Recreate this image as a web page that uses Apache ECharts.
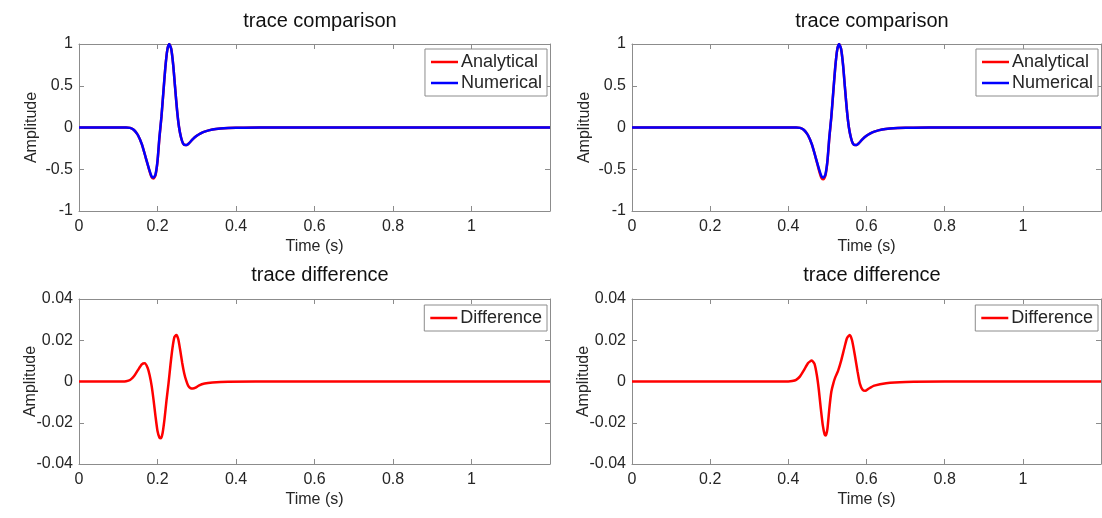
<!DOCTYPE html>
<html>
<head>
<meta charset="utf-8">
<script src="https://cdn.jsdelivr.net/npm/echarts@6/dist/echarts.min.js"></script>
<style>html,body{margin:0;padding:0;background:#fff}#c{width:1102px;height:518px}</style>
</head>
<body>
<div id="c"></div>
<script>
// ---- data ----
const xTicks = [0, 0.2, 0.4, 0.6, 0.8, 1];
const topYTicks = [-1, -0.5, 0, 0.5, 1];
const botYTicks = [-0.04, -0.02, 0, 0.02, 0.04];

// trace comparison, left panel
const timeCmpL = [0, 0.10, 0.12, 0.13, 0.14, 0.15, 0.16, 0.17, 0.18, 0.185, 0.19, 0.195, 0.20, 0.205, 0.21, 0.215, 0.22, 0.225, 0.23, 0.235, 0.24, 0.245, 0.25, 0.255, 0.26, 0.265, 0.27, 0.275, 0.28, 0.29, 0.30, 0.31, 0.32, 0.34, 0.36, 0.38, 0.42, 0.50, 1.2];
const analyticalL = [0, 0, 0, -0.005, -0.03, -0.09, -0.20, -0.36, -0.53, -0.595, -0.61, -0.57, -0.41, -0.12, 0.12, 0.42, 0.72, 0.93, 1.0, 0.94, 0.75, 0.47, 0.20, 0.0, -0.12, -0.19, -0.21, -0.21, -0.19, -0.14, -0.10, -0.07, -0.05, -0.025, -0.012, -0.006, -0.002, 0, 0];
const numericalL  = [0, 0, 0, -0.005, -0.03, -0.09, -0.20, -0.36, -0.52, -0.585, -0.60, -0.56, -0.40, -0.11, 0.13, 0.43, 0.72, 0.93, 1.0, 0.94, 0.75, 0.47, 0.20, 0.0, -0.12, -0.19, -0.21, -0.21, -0.19, -0.14, -0.10, -0.07, -0.05, -0.025, -0.012, -0.006, -0.002, 0, 0];

// trace comparison, right panel
const timeCmpR = [0, 0.40, 0.42, 0.43, 0.44, 0.45, 0.46, 0.47, 0.48, 0.485, 0.49, 0.495, 0.50, 0.505, 0.51, 0.515, 0.52, 0.525, 0.53, 0.535, 0.54, 0.545, 0.55, 0.555, 0.56, 0.565, 0.57, 0.575, 0.58, 0.59, 0.60, 0.61, 0.62, 0.64, 0.66, 0.68, 0.72, 0.80, 1.2];
const analyticalR = [0, 0, 0, -0.005, -0.03, -0.09, -0.20, -0.36, -0.54, -0.605, -0.62, -0.575, -0.41, -0.12, 0.12, 0.42, 0.72, 0.93, 1.0, 0.94, 0.75, 0.47, 0.20, 0.0, -0.12, -0.19, -0.21, -0.21, -0.19, -0.14, -0.10, -0.07, -0.05, -0.025, -0.012, -0.006, -0.002, 0, 0];
const numericalR  = [0, 0, 0, -0.005, -0.03, -0.09, -0.20, -0.36, -0.52, -0.585, -0.60, -0.56, -0.40, -0.11, 0.13, 0.43, 0.72, 0.93, 1.0, 0.94, 0.75, 0.47, 0.20, 0.0, -0.12, -0.19, -0.21, -0.21, -0.19, -0.14, -0.10, -0.07, -0.05, -0.025, -0.012, -0.006, -0.002, 0, 0];

// trace difference, left panel
const timeDiffL = [0, 0.11, 0.12, 0.13, 0.14, 0.15, 0.16, 0.1675, 0.175, 0.18, 0.185, 0.19, 0.195, 0.20, 0.205, 0.209, 0.213, 0.218, 0.223, 0.228, 0.233, 0.238, 0.243, 0.248, 0.253, 0.258, 0.263, 0.268, 0.273, 0.278, 0.284, 0.29, 0.297, 0.305, 0.32, 0.34, 0.38, 0.45, 1.2];
const differenceL = [0, 0, 0.0001, 0.0007, 0.0025, 0.0055, 0.0083, 0.0088, 0.0065, 0.003, -0.002, -0.009, -0.017, -0.024, -0.0272, -0.0275, -0.025, -0.018, -0.009, -0.001, 0.008, 0.016, 0.0215, 0.0226, 0.0205, 0.015, 0.009, 0.004, 0.0005, -0.002, -0.0032, -0.0034, -0.003, -0.002, -0.001, -0.0005, -0.0001, 0, 0];

// trace difference, right panel
const timeDiffR = [0, 0.40, 0.41, 0.42, 0.43, 0.44, 0.45, 0.46, 0.467, 0.473, 0.478, 0.483, 0.488, 0.493, 0.496, 0.50, 0.505, 0.51, 0.515, 0.52, 0.527, 0.535, 0.543, 0.55, 0.557, 0.563, 0.57, 0.577, 0.583, 0.59, 0.597, 0.605, 0.62, 0.65, 0.70, 0.80, 1.2];
const differenceR = [0, 0, 0.0002, 0.0008, 0.0025, 0.0055, 0.0088, 0.0102, 0.0085, 0.003, -0.004, -0.013, -0.021, -0.0258, -0.0262, -0.023, -0.013, -0.005, -0.001, 0.002, 0.005, 0.010, 0.016, 0.021, 0.0226, 0.020, 0.013, 0.005, -0.001, -0.004, -0.0045, -0.0035, -0.002, -0.0008, -0.0002, 0, 0];

// ---- chart ----
const zip = (t, v) => t.map((x, i) => [x, v[i]]);
const FONT = 'Liberation Sans, Arial, Helvetica, sans-serif';
const AX = '#8c8c8c';
const LBL = '#262626';

const grids = [
  {left: 79, top: 44, width: 471, height: 167},
  {left: 632, top: 44, width: 469, height: 167},
  {left: 79, top: 299, width: 471, height: 165},
  {left: 632, top: 299, width: 469, height: 165}
];

const xAxes = [], yAxes = [];
grids.forEach((g, i) => {
  xAxes.push({
    type: 'value', gridIndex: i, min: 0, max: 1.2, interval: 0.2, position: 'bottom',
    name: 'Time (s)', nameLocation: 'middle', nameGap: 28,
    nameTextStyle: {fontSize: 16, color: LBL, fontFamily: FONT},
    axisLine: {show: true, onZero: false, lineStyle: {color: AX, width: 1}},
    axisTick: {show: true, inside: true, length: 5, lineStyle: {color: AX}},
    axisLabel: {fontSize: 16, color: LBL, fontFamily: FONT, margin: 8, showMaxLabel: false,
      formatter: v => xTicks.indexOf(Math.round(v * 10) / 10) >= 0 ? String(Math.round(v * 10) / 10) : ''},
    splitLine: {show: false}
  });
  xAxes.push({
    type: 'value', gridIndex: i, min: 0, max: 1.2, interval: 0.2, position: 'top',
    axisLine: {show: true, onZero: false, lineStyle: {color: AX, width: 1}},
    axisTick: {show: true, inside: true, length: 5, lineStyle: {color: AX}},
    axisLabel: {show: false}, splitLine: {show: false}
  });
  const top = i < 2;
  const ticks = top ? topYTicks : botYTicks;
  yAxes.push({
    type: 'value', gridIndex: i, min: ticks[0], max: ticks[4], interval: (ticks[4] - ticks[0]) / 4,
    position: 'left',
    name: 'Amplitude', nameLocation: 'middle', nameGap: top ? 39 : 40, nameRotate: 90,
    nameMoveOverlap: false,
    nameTextStyle: {fontSize: 16, color: LBL, fontFamily: FONT},
    axisLine: {show: true, onZero: false, lineStyle: {color: AX, width: 1}},
    axisTick: {show: true, inside: true, length: 5, lineStyle: {color: AX}},
    axisLabel: {fontSize: 16, color: LBL, fontFamily: FONT, margin: 6,
      formatter: v => String(Math.round(v * 1000) / 1000)},
    splitLine: {show: false}
  });
  yAxes.push({
    type: 'value', gridIndex: i, min: ticks[0], max: ticks[4], interval: (ticks[4] - ticks[0]) / 4,
    position: 'right',
    axisLine: {show: true, onZero: false, lineStyle: {color: AX, width: 1}},
    axisTick: {show: true, inside: true, length: 5, lineStyle: {color: AX}},
    axisLabel: {show: false}, splitLine: {show: false}
  });
});

const lineSeries = (name, data, color, gi, z) => ({
  name, type: 'line', data, xAxisIndex: gi * 2, yAxisIndex: gi * 2,
  symbol: 'none', smooth: 0.2, z: z, animation: false,
  lineStyle: {color, width: 2.5}, itemStyle: {color}
});

const series = [
  lineSeries('Analytical', zip(timeCmpL, analyticalL), '#ff0000', 0, 2),
  lineSeries('Numerical', zip(timeCmpL, numericalL), '#0000ff', 0, 3),
  lineSeries('Analytical', zip(timeCmpR, analyticalR), '#ff0000', 1, 2),
  lineSeries('Numerical', zip(timeCmpR, numericalR), '#0000ff', 1, 3),
  lineSeries('Difference', zip(timeDiffL, differenceL), '#ff0000', 2, 2),
  lineSeries('Difference', zip(timeDiffR, differenceR), '#ff0000', 3, 2)
];

const legendBase = {
  orient: 'vertical', icon: 'rect', itemWidth: 27, itemHeight: 2.5, itemGap: 3,
  textStyle: {fontSize: 18, color: LBL, fontFamily: FONT, padding: [0, 0, 0, -2]},
  borderColor: AX, borderWidth: 1, padding: [4, 5, 4, 6], backgroundColor: '#fff',
  selectedMode: false
};

const titleStyle = {fontSize: 20, fontWeight: 'normal', color: '#111', fontFamily: FONT};

const chart = echarts.init(document.getElementById('c'), null, {renderer: 'canvas'});
chart.setOption({
  animation: false,
  backgroundColor: '#fff',
  title: [
    {text: 'trace comparison', left: 315, top: 6, textAlign: 'center', textStyle: titleStyle},
    {text: 'trace comparison', left: 867, top: 6, textAlign: 'center', textStyle: titleStyle},
    {text: 'trace difference', left: 315, top: 260, textAlign: 'center', textStyle: titleStyle},
    {text: 'trace difference', left: 867, top: 260, textAlign: 'center', textStyle: titleStyle}
  ],
  legend: [
    Object.assign({}, legendBase, {data: ['Analytical', 'Numerical'], right: 1102 - 547, top: 49}),
    Object.assign({}, legendBase, {data: ['Analytical', 'Numerical'], right: 1102 - 1098, top: 49}),
    Object.assign({}, legendBase, {data: ['Difference'], right: 1102 - 547, top: 305}),
    Object.assign({}, legendBase, {data: ['Difference'], right: 1102 - 1098, top: 305})
  ],
  grid: grids,
  xAxis: xAxes,
  yAxis: yAxes,
  series
});
</script>
</body>
</html>
